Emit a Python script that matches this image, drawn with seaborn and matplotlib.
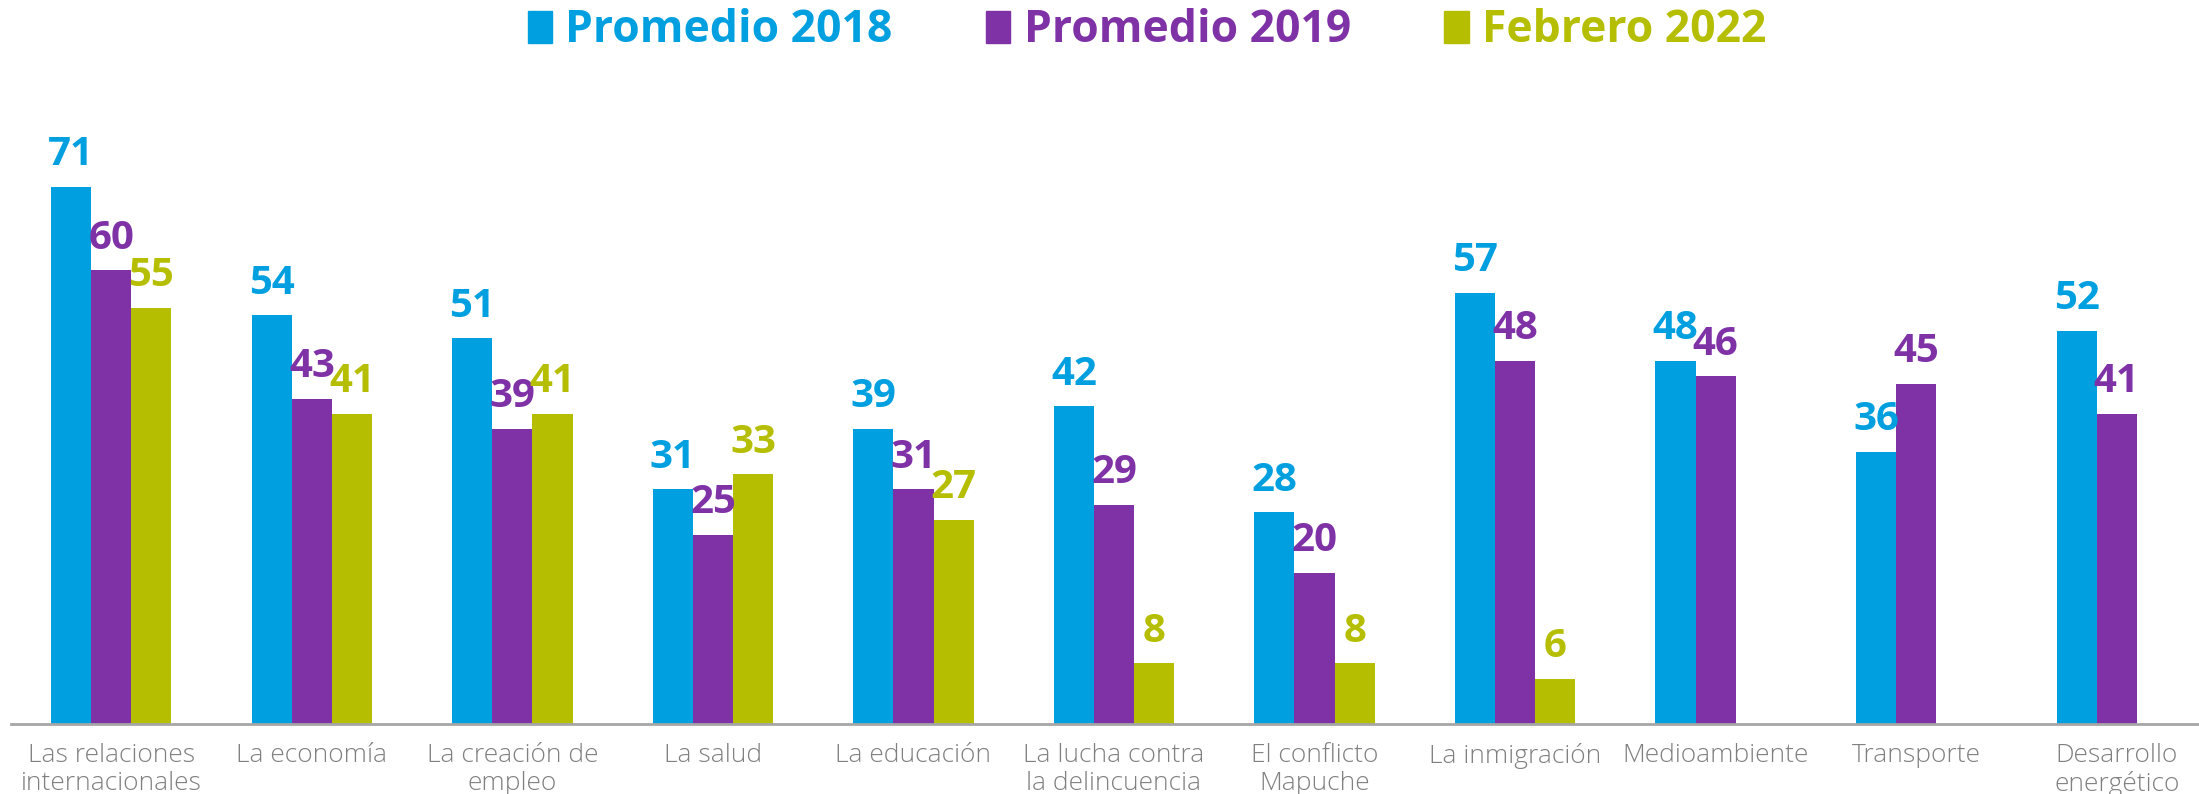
import matplotlib.pyplot as plt
import numpy as np
import pandas as pd
import seaborn as sns

categories = [
    "Las relaciones\ninternacionales", "La economía", "La creación de\nempleo",
    "La salud", "La educación", "La lucha contra\nla delincuencia",
    "El conflicto\nMapuche", "La inmigración", "Medioambiente",
    "Transporte", "Desarrollo\nenergético",
]
series = ["Promedio 2018", "Promedio 2019", "Febrero 2022"]
prom_2018 = [71, 54, 51, 31, 39, 42, 28, 57, 48, 36, 52]
prom_2019 = [60, 43, 39, 25, 31, 29, 20, 48, 46, 45, 41]
feb_2022 = [55, 41, 41, 33, 27, 8, 8, 6, np.nan, np.nan, np.nan]
colors = ["#00A0E0", "#7F31A6", "#B5BE00"]

df = pd.DataFrame({
    "tema": categories * 3,
    "serie": np.repeat(series, len(categories)),
    "valor": prom_2018 + prom_2019 + feb_2022,
})

sns.set_style("white")
plt.rcParams["font.family"] = ["Open Sans", "DejaVu Sans"]

W, H = 2199, 794
fig = plt.figure(figsize=(W / 100, H / 100), dpi=100)
ax = fig.add_axes([11 / W, 70 / H, 2206 / W, (724 - 90) / H])

sns.barplot(data=df, x="tema", y="valor", hue="serie", palette=colors,
            width=0.6, gap=0, linewidth=0, saturation=1, ax=ax, legend=False)

for cont, col in zip(ax.containers, colors):
    labels = ["" if np.isnan(v) else f"{int(v)}" for v in cont.datavalues]
    ax.bar_label(cont, labels=labels, padding=9, color=col,
                 fontsize=29, fontweight="bold")

ax.set_xlim(-0.5, len(categories) - 0.5)
ax.set_ylim(0, 634 / 7.565)
ax.set_xlabel("")
ax.set_ylabel("")
ax.set_yticks([])
for s in ["top", "right", "left"]:
    ax.spines[s].set_visible(False)
ax.spines["bottom"].set_color("#A6A6A6")
ax.spines["bottom"].set_linewidth(2)

ax.set_xticks(range(len(categories)))
ax.set_xticklabels(categories, fontsize=19, color="#808080",
                   fontweight="light", linespacing=1.15)
ax.tick_params(axis="x", which="major", length=0, pad=14)
ax.set_xticks(np.arange(-0.5, len(categories), 1), minor=True)
ax.tick_params(axis="x", which="minor", length=9, width=1.5,
               color="#A6A6A6", direction="out")

handles = [plt.Rectangle((0, 0), 1, 1, color=c) for c in colors]
fig.legend(handles, series, loc="center", bbox_to_anchor=(1147 / W, 1 - 31 / H),
           ncol=3, frameon=False, labelcolor=colors,
           prop={"size": 32, "weight": "bold"},
           handlelength=0.55, handleheight=0.7, handletextpad=0.3,
           columnspacing=2.1)

fig.savefig("out.png", dpi=100)
